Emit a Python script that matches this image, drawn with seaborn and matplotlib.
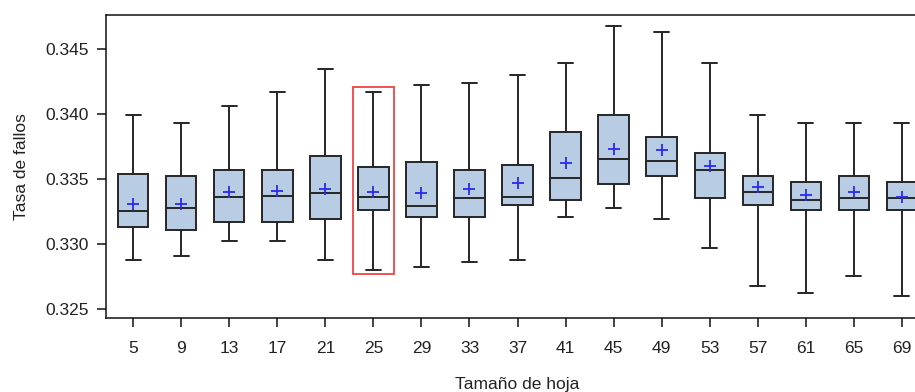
import numpy as np
import pandas as pd
import matplotlib
matplotlib.use("Agg")
import matplotlib.pyplot as plt
from matplotlib.patches import Rectangle
import seaborn as sns

# Datos (tamaño de hoja -> resumen de la tasa de fallos)
tamanos = ["5", "9", "13", "17", "21", "25", "29", "33", "37", "41", "45", "49", "53", "57", "61", "65", "69"]
minimos = [0.3288, 0.3291, 0.3302, 0.3302, 0.3288, 0.3280, 0.3282, 0.3286, 0.3288, 0.3321, 0.3328, 0.3319, 0.3297, 0.3268, 0.3262, 0.3275, 0.3260]
q1 = [0.3313, 0.3311, 0.3317, 0.3317, 0.3319, 0.3326, 0.3321, 0.3321, 0.3330, 0.3334, 0.3346, 0.3352, 0.3335, 0.3330, 0.3326, 0.3326, 0.3326]
medianas = [0.3325, 0.3328, 0.3336, 0.3337, 0.3339, 0.3336, 0.3329, 0.3335, 0.3336, 0.3351, 0.3365, 0.3364, 0.3357, 0.3340, 0.3334, 0.3335, 0.3335]
q3 = [0.3354, 0.3352, 0.3357, 0.3357, 0.3368, 0.3359, 0.3363, 0.3357, 0.3361, 0.3386, 0.3399, 0.3382, 0.3370, 0.3352, 0.3348, 0.3352, 0.3348]
maximos = [0.3399, 0.3393, 0.3406, 0.3417, 0.3435, 0.3417, 0.3422, 0.3424, 0.3430, 0.3439, 0.3468, 0.3463, 0.3439, 0.3399, 0.3393, 0.3393, 0.3393]
medias = [0.3331, 0.3331, 0.3340, 0.3341, 0.3342, 0.3340, 0.3339, 0.3342, 0.3347, 0.3362, 0.3373, 0.3372, 0.3360, 0.3344, 0.3338, 0.3340, 0.3336]
resaltado = "25"

# Cinco valores por grupo: con whis=(0, 100) las cajas reproducen el resumen
filas = []
for i, t in enumerate(tamanos):
    for v in (minimos[i], q1[i], medianas[i], q3[i], maximos[i]):
        filas.append({"tamano": t, "tasa": v})
df = pd.DataFrame(filas)

sns.set_theme(style="white")
plt.rcParams["font.family"] = ["Liberation Sans", "DejaVu Sans"]

fig = plt.figure(figsize=(9.15, 3.92), dpi=100)
ax = fig.add_axes([0.1162, 0.188, 0.8988, 0.7745])

borde = "#262626"
sns.boxplot(
    data=df, x="tamano", y="tasa", order=tamanos, whis=(0, 100),
    width=0.63, color="#b8cce4", saturation=1, linewidth=1.4,
    linecolor=borde, showfliers=False, ax=ax,
)
for p in ax.patches:
    p.set_facecolor("#b8cce4")
    p.set_edgecolor(borde)

# Medias
ax.plot(np.arange(len(tamanos)), medias, linestyle="none", marker="+",
        markersize=8, markeredgewidth=1.3, color="#2a2af0", zorder=5)

# Recuadro rojo alrededor del tamaño de hoja destacado
k = tamanos.index(resaltado)
pad = 0.00034
ax.add_patch(Rectangle((k - 0.42, minimos[k] - pad), 0.84,
                       maximos[k] - minimos[k] + 2 * pad,
                       fill=False, edgecolor="#f04444", linewidth=1.3, zorder=6))

ax.set_xlim(-0.562, len(tamanos) - 1 + 0.562)
ax.set_ylim(0.32428, 0.34764)
ax.set_yticks([0.325, 0.330, 0.335, 0.340, 0.345])
ax.set_yticklabels(["0.325", "0.330", "0.335", "0.340", "0.345"])

for s in ax.spines.values():
    s.set_color("#111111")
    s.set_linewidth(1.1)
ax.tick_params(axis="both", which="major", length=6.5, width=1.1, color="#111111",
               labelsize=12.5, labelcolor="#222222", left=True, bottom=True)
ax.tick_params(axis="y", pad=6)
ax.tick_params(axis="x", pad=10)

ax.set_xlabel("Tamaño de hoja", fontsize=12.5, color="#222222", labelpad=15)
ax.set_ylabel("Tasa de fallos", fontsize=12.5, color="#222222", labelpad=12)

fig.savefig("out.png", dpi=100)
